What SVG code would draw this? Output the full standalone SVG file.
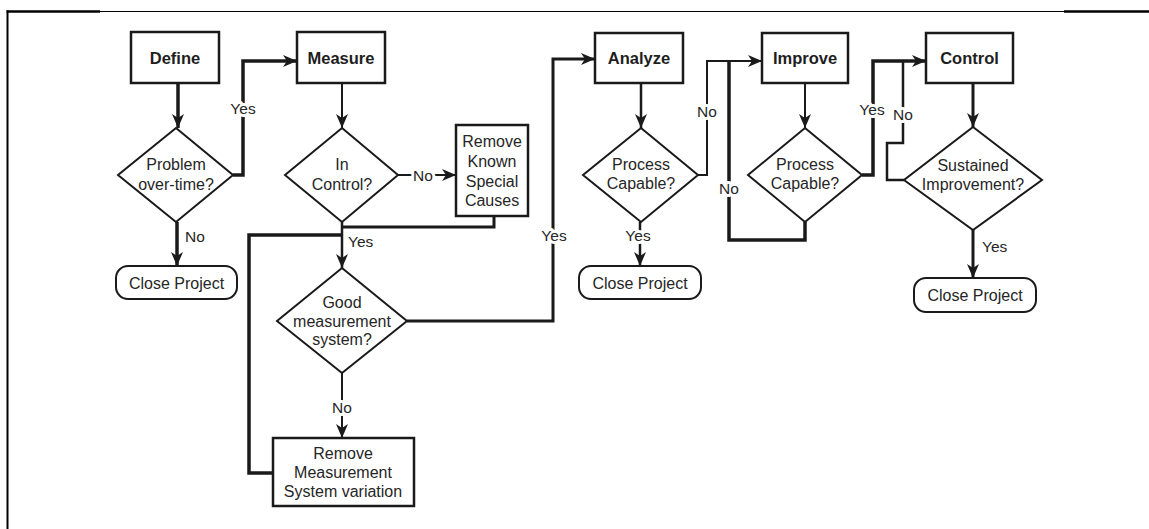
<svg xmlns="http://www.w3.org/2000/svg" width="1149" height="529" viewBox="0 0 1149 529">
<style>
.box{fill:#fff;stroke:#1a1a1a;stroke-width:2.5}
.dia{fill:#fff;stroke:#1a1a1a;stroke-width:2}
.rnd{fill:#fff;stroke:#1a1a1a;stroke-width:2}
.t{font-family:"Liberation Sans",Arial,sans-serif;font-size:16px;fill:#262626;text-anchor:middle}
.b{font-family:"Liberation Sans",Arial,sans-serif;font-size:16.5px;font-weight:bold;fill:#1e1e1e;text-anchor:middle}
.lbl{font-family:"Liberation Sans",Arial,sans-serif;font-size:15.5px;fill:#262626;stroke:#fff;stroke-width:6;paint-order:stroke;stroke-linejoin:round}
.c{fill:none;stroke:#1a1a1a;stroke-linejoin:miter}
.w2{stroke-width:2}.w25{stroke-width:2.5}.w3{stroke-width:3}.w35{stroke-width:3.5}
</style>
<defs>
<marker id="ah" markerUnits="userSpaceOnUse" markerWidth="15" markerHeight="12" refX="14" refY="6" orient="auto" overflow="visible">
<path d="M0,0 L14,6 L0,12 L4,6 Z" fill="#1a1a1a"/>
</marker>
</defs>
<rect width="1149" height="529" fill="#fff"/>
<g id="frame" stroke="#000" fill="none">
<line x1="7.5" y1="10.5" x2="7.5" y2="529" stroke-width="2"/>
<line x1="6.5" y1="11.5" x2="100" y2="11.5" stroke-width="2.5"/>
<line x1="100" y1="11.5" x2="1064" y2="11.5" stroke-width="1"/>
<line x1="1064" y1="11.5" x2="1149" y2="11.5" stroke-width="2.5"/>
</g>
<g id="connectors">
<path class="c w35" d="M178,83 V128" marker-end="url(#ah)"/>
<path class="c w35" d="M233,175 H243 V61 H297" marker-end="url(#ah)"/>
<path class="c w35" d="M177,222 V266" marker-end="url(#ah)"/>
<path class="c w2" d="M342,83 V128" marker-end="url(#ah)"/>
<path class="c w2" d="M397,175 H456" marker-end="url(#ah)"/>
<path class="c w25" d="M342,222 V268" marker-end="url(#ah)"/>
<path class="c w3" d="M494,216 V227 H342"/>
<path class="c w2" d="M342,373 V438" marker-end="url(#ah)"/>
<path class="c w35" d="M273,473 H249 V235 H342"/>
<path class="c w3" d="M407,321 H553 V59 H595" marker-end="url(#ah)"/>
<path class="c w25" d="M641,83 V128" marker-end="url(#ah)"/>
<path class="c w25" d="M640,222 V266" marker-end="url(#ah)"/>
<path class="c w2" d="M698,175 H707 V61 H762" marker-end="url(#ah)"/>
<path class="c w35" d="M805,222 V240 H729 V61"/>
<path class="c w2" d="M805,83 V128" marker-end="url(#ah)"/>
<path class="c w35" d="M862,175 H873 V61 H926" marker-end="url(#ah)"/>
<path class="c w25" d="M904,180 H887 V143 H903 V61"/>
<path class="c w3" d="M973,83 V127" marker-end="url(#ah)"/>
<path class="c w3" d="M973,230 V278" marker-end="url(#ah)"/>
<text class="lbl" x="243" y="114" text-anchor="middle">Yes</text>
<text class="lbl" x="185" y="242">No</text>
<text class="lbl" x="348" y="247">Yes</text>
<text class="lbl" x="423" y="181" text-anchor="middle">No</text>
<text class="lbl" x="342" y="413" text-anchor="middle">No</text>
<text class="lbl" x="554" y="241" text-anchor="middle">Yes</text>
<text class="lbl" x="638" y="241" text-anchor="middle">Yes</text>
<text class="lbl" x="707" y="117" text-anchor="middle">No</text>
<text class="lbl" x="729" y="194" text-anchor="middle">No</text>
<text class="lbl" x="872" y="115" text-anchor="middle">Yes</text>
<text class="lbl" x="903" y="120" text-anchor="middle">No</text>
<text class="lbl" x="982" y="252">Yes</text>
</g>
<g id="define"><rect class="box" x="131" y="32" width="88" height="51" stroke-width="3"/><text class="b" x="175" y="63.5">Define</text></g>
<g id="problem"><path class="dia" d="M176,128 L233,175 L176,222 L118,175 Z"/><text class="t" x="176" y="170">Problem</text><text class="t" x="176" y="190">over-time?</text></g>
<g id="close1"><rect class="rnd" x="116" y="266" width="121" height="33" rx="12"/><text class="t" x="176.5" y="288.5">Close Project</text></g>
<g id="measure"><rect class="box" x="297" y="32" width="88" height="51"/><text class="b" x="341" y="63.5">Measure</text></g>
<g id="incontrol"><path class="dia" d="M342,128 L398,175 L342,222 L285,175 Z"/><text class="t" x="342" y="170">In</text><text class="t" x="342" y="190">Control?</text></g>
<g id="removeknown"><rect class="box" x="456" y="125" width="72" height="91" stroke-width="3"/><text class="t" x="492" y="147">Remove</text><text class="t" x="492" y="167">Known</text><text class="t" x="492" y="186.5">Special</text><text class="t" x="492" y="206">Causes</text></g>
<g id="goodmeas"><path class="dia" d="M342,268 L407,321 L342,373 L277,321 Z"/><text class="t" x="342" y="308">Good</text><text class="t" x="342" y="327">measurement</text><text class="t" x="342" y="345">system?</text></g>
<g id="removemeas"><rect class="box" x="273" y="438" width="141" height="68"/><text class="t" x="343" y="459">Remove</text><text class="t" x="343" y="478">Measurement</text><text class="t" x="343" y="497">System variation</text></g>
<g id="analyze"><rect class="box" x="595" y="33" width="88" height="50"/><text class="b" x="639" y="63.5">Analyze</text></g>
<g id="capable1"><path class="dia" d="M641,128 L698,175 L641,222 L583,175 Z"/><text class="t" x="641" y="170">Process</text><text class="t" x="641" y="189">Capable?</text></g>
<g id="close2"><rect class="rnd" x="579" y="266" width="122" height="33" rx="12"/><text class="t" x="640" y="288.5">Close Project</text></g>
<g id="improve"><rect class="box" x="762" y="33" width="86" height="50"/><text class="b" x="805" y="63.5">Improve</text></g>
<g id="capable2"><path class="dia" d="M805,128 L862,175 L805,222 L748,175 Z"/><text class="t" x="805" y="170">Process</text><text class="t" x="805" y="189">Capable?</text></g>
<g id="control"><rect class="box" x="926" y="33" width="87" height="50"/><text class="b" x="969.5" y="63.5">Control</text></g>
<g id="sustained"><path class="dia" d="M973,127 L1042,180 L973,230 L904,180 Z"/><text class="t" x="973" y="171">Sustained</text><text class="t" x="973" y="190">Improvement?</text></g>
<g id="close3"><rect class="rnd" x="914" y="278" width="122" height="34" rx="12"/><text class="t" x="975" y="301">Close Project</text></g>
</svg>
